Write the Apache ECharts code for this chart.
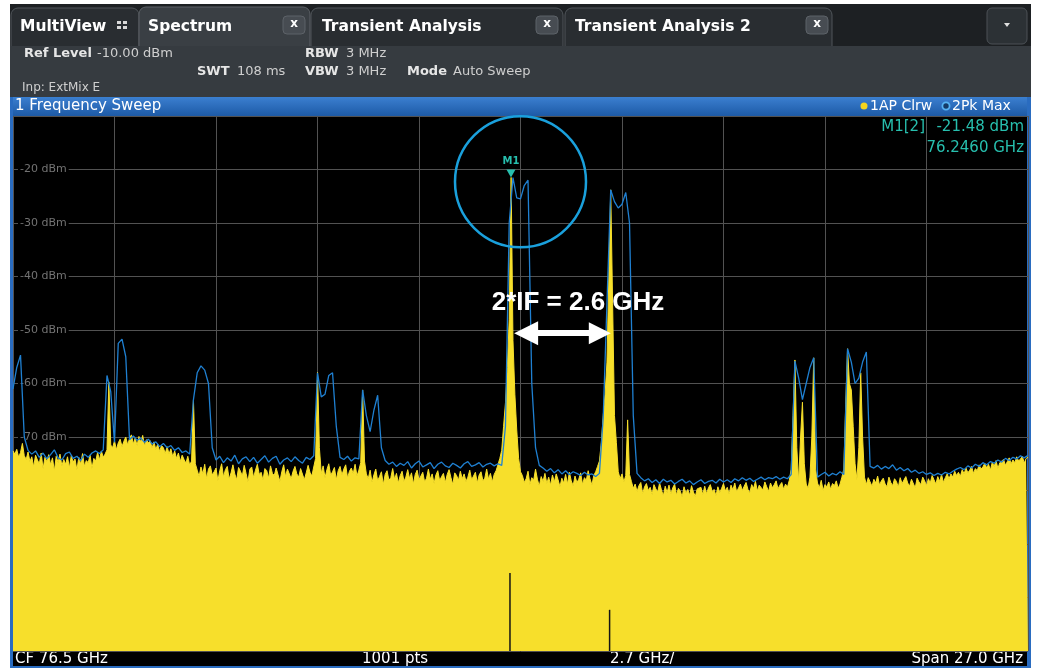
<!DOCTYPE html>
<html>
<head>
<meta charset="utf-8">
<title>1 Frequency Sweep</title>
<script src="https://cdn.jsdelivr.net/npm/echarts@6/dist/echarts.min.js"></script>
<style>
    html, body { margin: 0; padding: 0; background: #fff; }
    #main { width: 1038px; height: 668px; }
</style>
</head>
<body>
<div id="main"></div>
<script>
// sweep settings (GHz / dBm)
var START_F = 63.0;
var SPAN_F = 27.0;
var DIV_F = 2.7;
var REF_LEVEL = -10;
var BOTTOM_LEVEL = -110;
var levelLabels = [-20, -30, -40, -50, -60, -70];

// trace 1: AP Clrw, one value every 0.05 GHz from 63.0 to 90.0 GHz
var apTrace = [
    // 63.00 - 65.45
    -72.6, -73.2, -72.3, -73.8, -72.9, -71.2, -73.5, -74.2, -72.8, -74.6,
    -73.7, -75.6, -73.4, -74.3, -75.0, -73.0, -76.0, -73.8, -74.6, -73.3,
    -75.2, -73.9, -76.4, -73.6, -74.8, -73.2, -75.4, -74.2, -75.1, -73.7,
    -75.8, -73.5, -74.7, -74.1, -76.2, -73.8, -75.1, -73.1, -75.5, -74.4,
    -74.8, -73.4, -75.9, -74.0, -74.5, -72.9, -74.3, -72.6, -73.8, -73.2,
    // 65.50 - 65.60
    -72.4, -59.7, -71.5,
    // 65.65 - 67.70
    -72.0, -70.7, -72.4, -71.1, -70.4, -71.8, -70.8, -70.0, -71.5, -70.3,
    -69.6, -71.3, -70.2, -71.6, -69.9, -71.0, -69.7, -71.7, -70.5, -71.1,
    -70.7, -72.1, -70.9, -72.4, -71.3, -72.7, -71.6, -72.0, -73.1, -71.8,
    -73.2, -72.2, -73.7, -72.6, -74.0, -73.0, -74.6, -73.4, -74.2, -74.9, -73.6, -75.3,
    // 67.75 - 67.85
    -74.5, -63.1, -75.0,
    // 67.90 - 71.00
    -76.2, -77.4, -75.6, -76.9, -75.1, -77.8, -76.0, -75.4, -77.1, -76.5,
    -75.8, -78.2, -76.3, -75.0, -77.5, -76.1, -75.5, -77.9, -76.7, -75.2,
    -76.9, -78.0, -75.7, -76.4, -77.3, -75.3, -76.8, -78.4, -76.0, -75.6,
    -77.6, -76.2, -75.1, -77.0, -76.6, -78.1, -75.9, -76.3, -77.7, -75.4,
    -76.8, -77.2, -75.8, -76.1, -78.3, -76.5, -75.2, -77.4, -76.0, -75.7,
    -77.8, -76.4, -75.5, -76.9, -77.5, -75.9, -76.2, -78.0, -76.7, -75.3,
    -76.6, -77.3, -75.6,
    // 71.05 - 71.15
    -74.0, -57.9, -72.0,
    // 71.20 - 72.25
    -76.8, -75.4, -77.6, -76.1, -75.0, -77.2, -76.5, -75.7, -78.0, -76.3,
    -75.5, -77.1, -76.0, -75.2, -77.7, -76.4, -75.8, -76.9, -75.1, -77.3, -76.2, -74.8,
    // 72.30 - 72.35
    -61.2, -74.5,
    // 72.40 - 75.95
    -76.9, -77.8, -76.2, -78.5, -77.1, -76.0, -78.2, -77.4, -76.5, -78.9,
    -77.0, -76.3, -78.1, -77.6, -75.9, -77.9, -76.8, -78.6, -77.2, -76.4,
    -78.3, -77.5, -76.1, -77.8, -76.7, -78.8, -77.0, -76.2, -78.0, -77.3,
    -76.6, -78.4, -77.7, -76.0, -77.9, -76.9, -78.7, -77.1, -76.3, -78.2,
    -77.4, -76.8, -78.5, -77.0, -76.1, -77.6, -78.9, -76.7, -77.2, -78.1,
    -76.4, -77.8, -76.9, -78.3, -77.5, -76.2, -78.0, -77.3, -76.6, -78.6,
    -77.1, -76.5, -78.2, -77.7, -76.0, -77.9, -76.8, -78.4, -77.0, -76.3, -75.2, -74.0,
    // 76.00 - 76.50 (image signal)
    -72.5, -68.0, -63.6, -57.0, -48.0, -21.48, -52.0, -62.0, -68.7, -74.0, -76.5,
    // 76.55 - 78.65
    -77.2, -78.5, -77.8, -76.4, -78.9, -77.6, -78.1, -76.0, -77.9, -79.2,
    -77.4, -78.3, -76.8, -78.7, -77.5, -79.0, -77.1, -78.4, -76.9, -78.0,
    -79.3, -77.7, -78.6, -77.0, -78.8, -76.6, -78.2, -79.1, -77.3, -78.5,
    -77.9, -76.7, -78.9, -77.6, -78.1, -76.3, -77.8, -79.0, -77.2, -76.5, -75.5, -74.5, -71.0,
    // 78.70 - 79.10 (wanted signal)
    -66.0, -62.0, -56.0, -40.0, -23.8, -45.0, -66.0, -71.0, -76.5,
    // 79.15 - 79.40
    -77.8, -76.9, -78.4, -77.2, -66.8, -77.0,
    // 79.45 - 83.70
    -78.3, -79.6, -78.8, -80.2, -79.1, -78.5, -80.6, -79.3, -78.7, -80.0,
    -79.4, -80.8, -78.9, -79.7, -80.3, -78.6, -79.9, -81.0, -79.2, -80.4,
    -79.0, -80.7, -79.5, -78.8, -80.9, -79.6, -80.1, -81.2, -79.3, -80.5,
    -79.8, -80.9, -79.1, -80.3, -81.1, -79.7, -80.0, -79.4, -80.8, -79.2,
    -80.6, -79.5, -78.9, -80.2, -79.8, -81.0, -79.3, -80.4, -79.6, -78.7,
    -80.1, -79.4, -80.7, -79.0, -79.9, -78.6, -80.3, -79.5, -78.8, -80.0,
    -79.2, -78.5, -79.8, -80.4, -78.9, -79.6, -78.3, -80.1, -79.0, -78.7,
    -79.9, -78.4, -79.3, -80.2, -78.6, -79.5, -78.9, -78.2, -79.7, -79.0,
    -78.5, -79.8, -78.8, -79.4, -78.1, -76.0,
    // 83.75 - 84.35
    -66.0, -55.6, -72.0, -78.5, -70.0, -63.5, -75.0, -78.8, -79.6, -77.5,
    -70.0, -55.2, -76.0,
    // 84.40 - 85.10
    -78.6, -79.5, -78.1, -80.0, -78.9, -79.3, -78.4, -79.8, -78.7, -79.1,
    -78.2, -79.6, -78.8, -77.5, -76.0,
    // 85.15 - 85.65
    -64.0, -53.5, -60.0, -61.2, -68.0, -75.0, -78.0, -72.0, -58.0, -70.0, -77.5,
    // 85.70 - 87.85
    -78.9, -77.6, -78.4, -79.2, -77.9, -78.6, -77.3, -79.0, -78.2, -77.7,
    -78.8, -79.3, -77.5, -78.5, -79.1, -77.8, -78.3, -79.4, -77.6, -78.7,
    -79.0, -77.4, -78.6, -79.2, -77.9, -78.1, -79.5, -77.7, -78.4, -78.9,
    -77.5, -78.2, -79.1, -77.8, -78.6, -77.2, -78.0, -78.8, -77.4, -78.3, -77.0, -78.5, -77.6, -76.9,
    // 87.90 - 90.00
    -77.8, -76.9, -77.5, -76.4, -77.2, -76.6, -77.4, -76.1, -76.9, -75.8,
    -76.7, -76.2, -75.5, -76.8, -75.9, -76.3, -75.2, -76.0, -75.6, -74.9,
    -75.8, -75.1, -76.2, -74.7, -75.5, -74.4, -75.9, -74.8, -75.0, -74.2,
    -75.3, -74.6, -73.9, -75.0, -74.3, -74.8, -73.7, -74.5, -74.1, -73.6, -74.9, -74.0, -73.8
];

// trace 2: Pk Max, one value every 0.1 GHz from 63.0 to 90.0 GHz
var pkTrace = [
    -61.0, -57.0, -54.7, -70.0, -72.5,
    -73.2, -72.6, -73.8, -73.0, -74.1, -73.3, -72.4, -73.9, -74.3, -73.1,
    -72.8, -74.0, -73.6, -74.4, -73.2, -73.8, -73.0, -72.6, -73.1, -72.4,
    -58.5, -61.5, -71.0, -52.5, -51.7, -55.0, -70.5,
    -69.8, -70.6, -70.2, -71.0, -70.4, -71.3, -70.9, -71.8,
    -71.2, -72.0, -71.6, -72.5, -72.0, -72.9, -72.6, -73.2,
    -63.0, -58.0, -56.7, -57.5, -60.0, -72.0,
    -74.3, -73.6, -74.8, -73.9, -74.5, -73.4, -75.0, -74.1, -73.7, -74.6,
    -73.8, -74.9, -74.2, -73.5, -74.7, -74.0, -73.6, -75.1, -74.3, -73.9,
    -74.6, -73.7, -74.4, -74.9, -73.8, -74.2, -73.5,
    -58.0, -62.5, -62.0, -58.5, -58.0, -68.0, -73.8,
    -74.2, -73.6, -74.5, -73.9, -74.1,
    -61.2, -66.0, -69.0, -65.0, -62.2, -72.0,
    -74.4, -75.1, -74.7, -75.5, -74.9, -75.3, -74.6, -75.8,
    -75.0, -74.5, -75.6, -75.2, -74.8, -75.9, -75.1, -74.7,
    -75.4, -75.7, -74.9, -75.3, -75.8, -75.0, -74.6, -75.5,
    -75.2, -74.8, -75.6, -75.1, -74.9, -75.4, -75.0, -75.3,
    -68.0, -30.0, -21.5, -25.3, -25.5, -23.0, -22.0, -60.0, -72.0, -75.3,
    -75.8, -76.4, -75.9, -76.7, -76.1, -76.9, -76.3, -77.0,
    -76.5, -76.8, -77.2, -76.6, -77.1, -76.9, -77.4, -76.8,
    -66.4, -45.0, -23.8, -26.0, -27.2, -26.5, -24.3, -30.0, -66.0, -76.8,
    -77.6, -78.2, -77.8, -78.5, -78.0, -78.7, -77.9, -78.4, -78.1, -78.8,
    -78.3, -77.9, -78.6, -78.2, -78.9, -78.4, -78.0, -78.7, -78.3, -78.1,
    -78.6, -77.9, -78.4, -78.0, -78.5, -77.8, -78.2, -77.6, -78.1, -77.7,
    -78.3, -77.9, -77.5, -78.0, -77.6, -77.8, -77.4, -77.9, -77.5, -77.8, -77.0,
    -55.8, -59.0, -63.0, -60.0, -57.0, -55.2, -77.5,
    -77.0, -76.6, -77.3, -76.8, -77.1, -76.5, -77.0,
    -53.5, -56.0, -60.0, -59.0, -56.0, -54.1, -75.5,
    -75.8, -75.3, -76.0, -75.5, -75.9, -75.2, -76.2, -75.7, -76.3, -75.9, -76.6, -76.2, -76.8,
    -76.5, -77.0, -76.7, -77.2, -76.8, -77.1, -76.6, -76.9, -76.4,
    -76.0, -75.7, -76.1, -75.4, -75.8, -75.1, -75.5, -74.8, -75.2, -74.6,
    -74.9, -74.3, -74.7, -74.0, -74.4, -73.8, -74.1, -73.5, -73.9, -73.4
];

// short dips of the AP trace minimum near the two signals [GHz, dBm]
var apMinDips = [[76.22, -95.4], [78.87, -102.3]];

// marker and annotation anchors [GHz, dBm]
var marker1 = [76.246, -21.48];
var focusCircle = [76.5, -22.3];
var ifArrow = [[76.65, -50.6], [78.61, -50.6]];
var ifLabel = [78.03, -44.9];

var FONT = "'DejaVu Sans', Verdana, sans-serif";
var TEAL = '#27bfae';
var YELLOW = '#f7df2b';
var BLUE = '#1f80d2';

function toX(f) {
    return f - START_F;
}

function traceData(arr) {
    var step = SPAN_F / (arr.length - 1);
    return arr.map(function (v, i) {
        return [i * step, v];
    });
}

function box(x, y, w, h, fill, stroke, r) {
    return {
        type: 'rect', silent: true,
        shape: { x: x, y: y, width: w, height: h, r: r || 0 },
        style: { fill: fill, stroke: stroke || null, lineWidth: 1 }
    };
}

function txt(x, y, text, font, fill, align, z) {
    return {
        type: 'text', silent: true, x: x, y: y, z: z || 0,
        style: { text: text, font: font, fill: fill || '#fff', align: align || 'left', verticalAlign: 'middle' }
    };
}

function closeBtn(x) {
    return [
        box(x, 16, 22, 18, '#474c52', '#5d6268', 4),
        txt(x + 11, 24, 'x', 'bold 12px ' + FONT, '#fff', 'center')
    ];
}

var tabTop = [7, 7, 0, 0];
var chrome = [
    box(10, 4, 1021, 43, '#1d2023'),
    box(11, 8, 128, 39, '#292d31', '#50555a', tabTop),
    box(139, 7, 171, 40, '#3a3f44', '#5c6166', tabTop),
    box(311, 8, 252, 39, '#292d31', '#50555a', tabTop),
    box(565, 8, 267, 39, '#292d31', '#50555a', tabTop),
    box(987, 8, 40, 36, '#2c3135', '#4c5156', 5),
    {
        type: 'polygon', silent: true,
        shape: { points: [[1004, 23], [1010, 23], [1007, 27]] },
        style: { fill: '#e0e0e0' }
    },
    box(117, 21, 4, 3, '#d8d8d8'), box(123, 21, 4, 3, '#d8d8d8'),
    box(117, 26, 4, 3, '#d8d8d8'), box(123, 26, 4, 3, '#d8d8d8'),
    txt(20, 27, 'MultiView', 'bold 15.5px ' + FONT),
    txt(148, 27, 'Spectrum', 'bold 15.5px ' + FONT),
    txt(322, 27, 'Transient Analysis', 'bold 15.5px ' + FONT),
    txt(575, 27, 'Transient Analysis 2', 'bold 15.5px ' + FONT),
    // setting row
    box(10, 46, 1021, 51, '#363b40'),
    txt(24, 54, 'Ref Level', 'bold 13px ' + FONT, '#e6e6e6'),
    txt(97, 54, '-10.00 dBm', '13px ' + FONT, '#cfcfcf'),
    txt(197, 72, 'SWT', 'bold 13px ' + FONT, '#e6e6e6'),
    txt(237, 72, '108 ms', '13px ' + FONT, '#cfcfcf'),
    txt(305, 54, 'RBW', 'bold 13px ' + FONT, '#e6e6e6'),
    txt(346, 54, '3 MHz', '13px ' + FONT, '#cfcfcf'),
    txt(305, 72, 'VBW', 'bold 13px ' + FONT, '#e6e6e6'),
    txt(346, 72, '3 MHz', '13px ' + FONT, '#cfcfcf'),
    txt(407, 72, 'Mode', 'bold 13px ' + FONT, '#e6e6e6'),
    txt(453, 72, 'Auto Sweep', '13px ' + FONT, '#cfcfcf'),
    txt(22, 88, 'Inp: ExtMix E', '12px ' + FONT, '#cfcfcf'),
    // window title bar
    {
        type: 'rect', silent: true,
        shape: { x: 10, y: 97, width: 1021, height: 19 },
        style: {
            fill: {
                type: 'linear', x: 0, y: 0, x2: 0, y2: 1,
                colorStops: [{ offset: 0, color: '#3b7fd0' }, { offset: 1, color: '#1d5aa6' }]
            }
        }
    },
    txt(15, 106, '1 Frequency Sweep', '15px ' + FONT),
    { type: 'circle', silent: true, shape: { cx: 864, cy: 106, r: 3.5 }, style: { fill: '#f5d51e' } },
    txt(870, 106, '1AP Clrw', '14px ' + FONT),
    { type: 'circle', silent: true, shape: { cx: 946, cy: 106, r: 3.6 }, style: { fill: '#143a66', stroke: '#56b2f2', lineWidth: 1.8 } },
    txt(952, 106, '2Pk Max', '14px ' + FONT),
    // frame and bottom status line
    box(10, 97, 3, 571, '#2a6cc0'),
    box(1027, 97, 4, 571, '#2a6cc0'),
    box(13, 651, 1014, 17, '#000'),
    box(10, 666, 1021, 2, '#2a6cc0'),
    txt(15, 659, 'CF 76.5 GHz', '15px ' + FONT),
    txt(362, 659, '1001 pts', '15px ' + FONT),
    txt(610, 659, '2.7 GHz/', '15px ' + FONT),
    txt(1023, 659, 'Span 27.0 GHz', '15px ' + FONT, '#fff', 'right'),
    // marker readout
    txt(925, 127, 'M1[2]', '15px ' + FONT, TEAL, 'right', 10),
    txt(1024, 127, marker1[1].toFixed(2) + ' dBm', '15px ' + FONT, TEAL, 'right', 10),
    txt(1024, 148, marker1[0].toFixed(4) + ' GHz', '15px ' + FONT, TEAL, 'right', 10)
].concat(closeBtn(283), closeBtn(536), closeBtn(806));

var myChart = echarts.init(document.getElementById('main'));

var option = {
    animation: false,
    backgroundColor: '#fff',
    grid: {
        left: 13, right: 10, top: 116, bottom: 17,
        show: true, backgroundColor: '#000', borderWidth: 0
    },
    xAxis: {
        type: 'value',
        min: 0, max: SPAN_F, interval: DIV_F,
        axisLine: { show: false },
        axisTick: { show: false },
        axisLabel: { show: false },
        splitLine: { show: true, lineStyle: { color: '#525252', width: 1 } }
    },
    yAxis: {
        type: 'value',
        min: BOTTOM_LEVEL, max: REF_LEVEL, interval: 10,
        axisLine: { show: false },
        axisTick: { show: false },
        splitLine: { show: true, lineStyle: { color: '#525252', width: 1 } },
        axisLabel: {
            inside: true,
            margin: 5,
            color: '#737373',
            fontSize: 11,
            fontFamily: FONT,
            backgroundColor: '#000',
            padding: [0, 2],
            formatter: function (v) {
                return levelLabels.indexOf(v) >= 0 ? v + ' dBm' : '';
            }
        }
    },
    graphic: { elements: chrome },
    series: [
        {
            name: '1AP Clrw',
            type: 'line',
            data: traceData(apTrace),
            showSymbol: false,
            silent: true,
            z: 2,
            lineStyle: { color: YELLOW, width: 1 },
            areaStyle: { color: YELLOW, opacity: 1, origin: 'start' }
        },
        {
            name: 'AP min',
            type: 'custom',
            silent: true,
            z: 3,
            data: apMinDips.map(function (d) { return [toX(d[0]), d[1]]; }),
            renderItem: function (params, api) {
                var top = api.coord([api.value(0), api.value(1)]);
                var bottom = api.coord([api.value(0), BOTTOM_LEVEL]);
                return {
                    type: 'line',
                    shape: { x1: top[0], y1: top[1], x2: bottom[0], y2: bottom[1] },
                    style: { stroke: '#141414', lineWidth: 1.5 }
                };
            }
        },
        {
            name: '2Pk Max',
            type: 'line',
            data: traceData(pkTrace),
            showSymbol: false,
            silent: true,
            z: 4,
            lineStyle: { color: BLUE, width: 1.3 }
        },
        {
            name: 'focus',
            type: 'scatter',
            silent: true,
            z: 5,
            data: [[toX(focusCircle[0]), focusCircle[1]]],
            symbol: 'circle',
            symbolSize: 131,
            itemStyle: { color: 'rgba(0,0,0,0)', borderColor: '#1aa0dc', borderWidth: 2.5, opacity: 1 }
        },
        {
            name: 'M1',
            type: 'scatter',
            silent: true,
            z: 6,
            data: [[toX(marker1[0]), marker1[1]]],
            symbol: 'triangle',
            symbolRotate: 180,
            symbolSize: [9, 8],
            symbolOffset: [0, -4],
            itemStyle: { color: TEAL, opacity: 1 },
            label: {
                show: true, position: 'top', distance: 3,
                formatter: 'M1', color: TEAL,
                fontSize: 10, fontWeight: 'bold', fontFamily: FONT
            }
        },
        {
            name: 'IF arrow',
            type: 'lines',
            coordinateSystem: 'cartesian2d',
            silent: true,
            z: 7,
            symbol: ['triangle', 'triangle'],
            symbolSize: [24, 22],
            lineStyle: { color: '#fff', width: 6, opacity: 1 },
            data: [{ coords: ifArrow.map(function (d) { return [toX(d[0]), d[1]]; }) }]
        },
        {
            name: 'IF label',
            type: 'scatter',
            silent: true,
            z: 7,
            data: [[toX(ifLabel[0]), ifLabel[1]]],
            symbolSize: 1,
            itemStyle: { color: 'rgba(0,0,0,0)', opacity: 1 },
            label: {
                show: true, position: 'inside',
                formatter: '2*IF = 2.6 GHz',
                color: '#fff', fontSize: 26, fontWeight: 'bold',
                fontFamily: "'Liberation Sans', Arial, sans-serif"
            }
        }
    ]
};

myChart.setOption(option);
</script>
</body>
</html>
